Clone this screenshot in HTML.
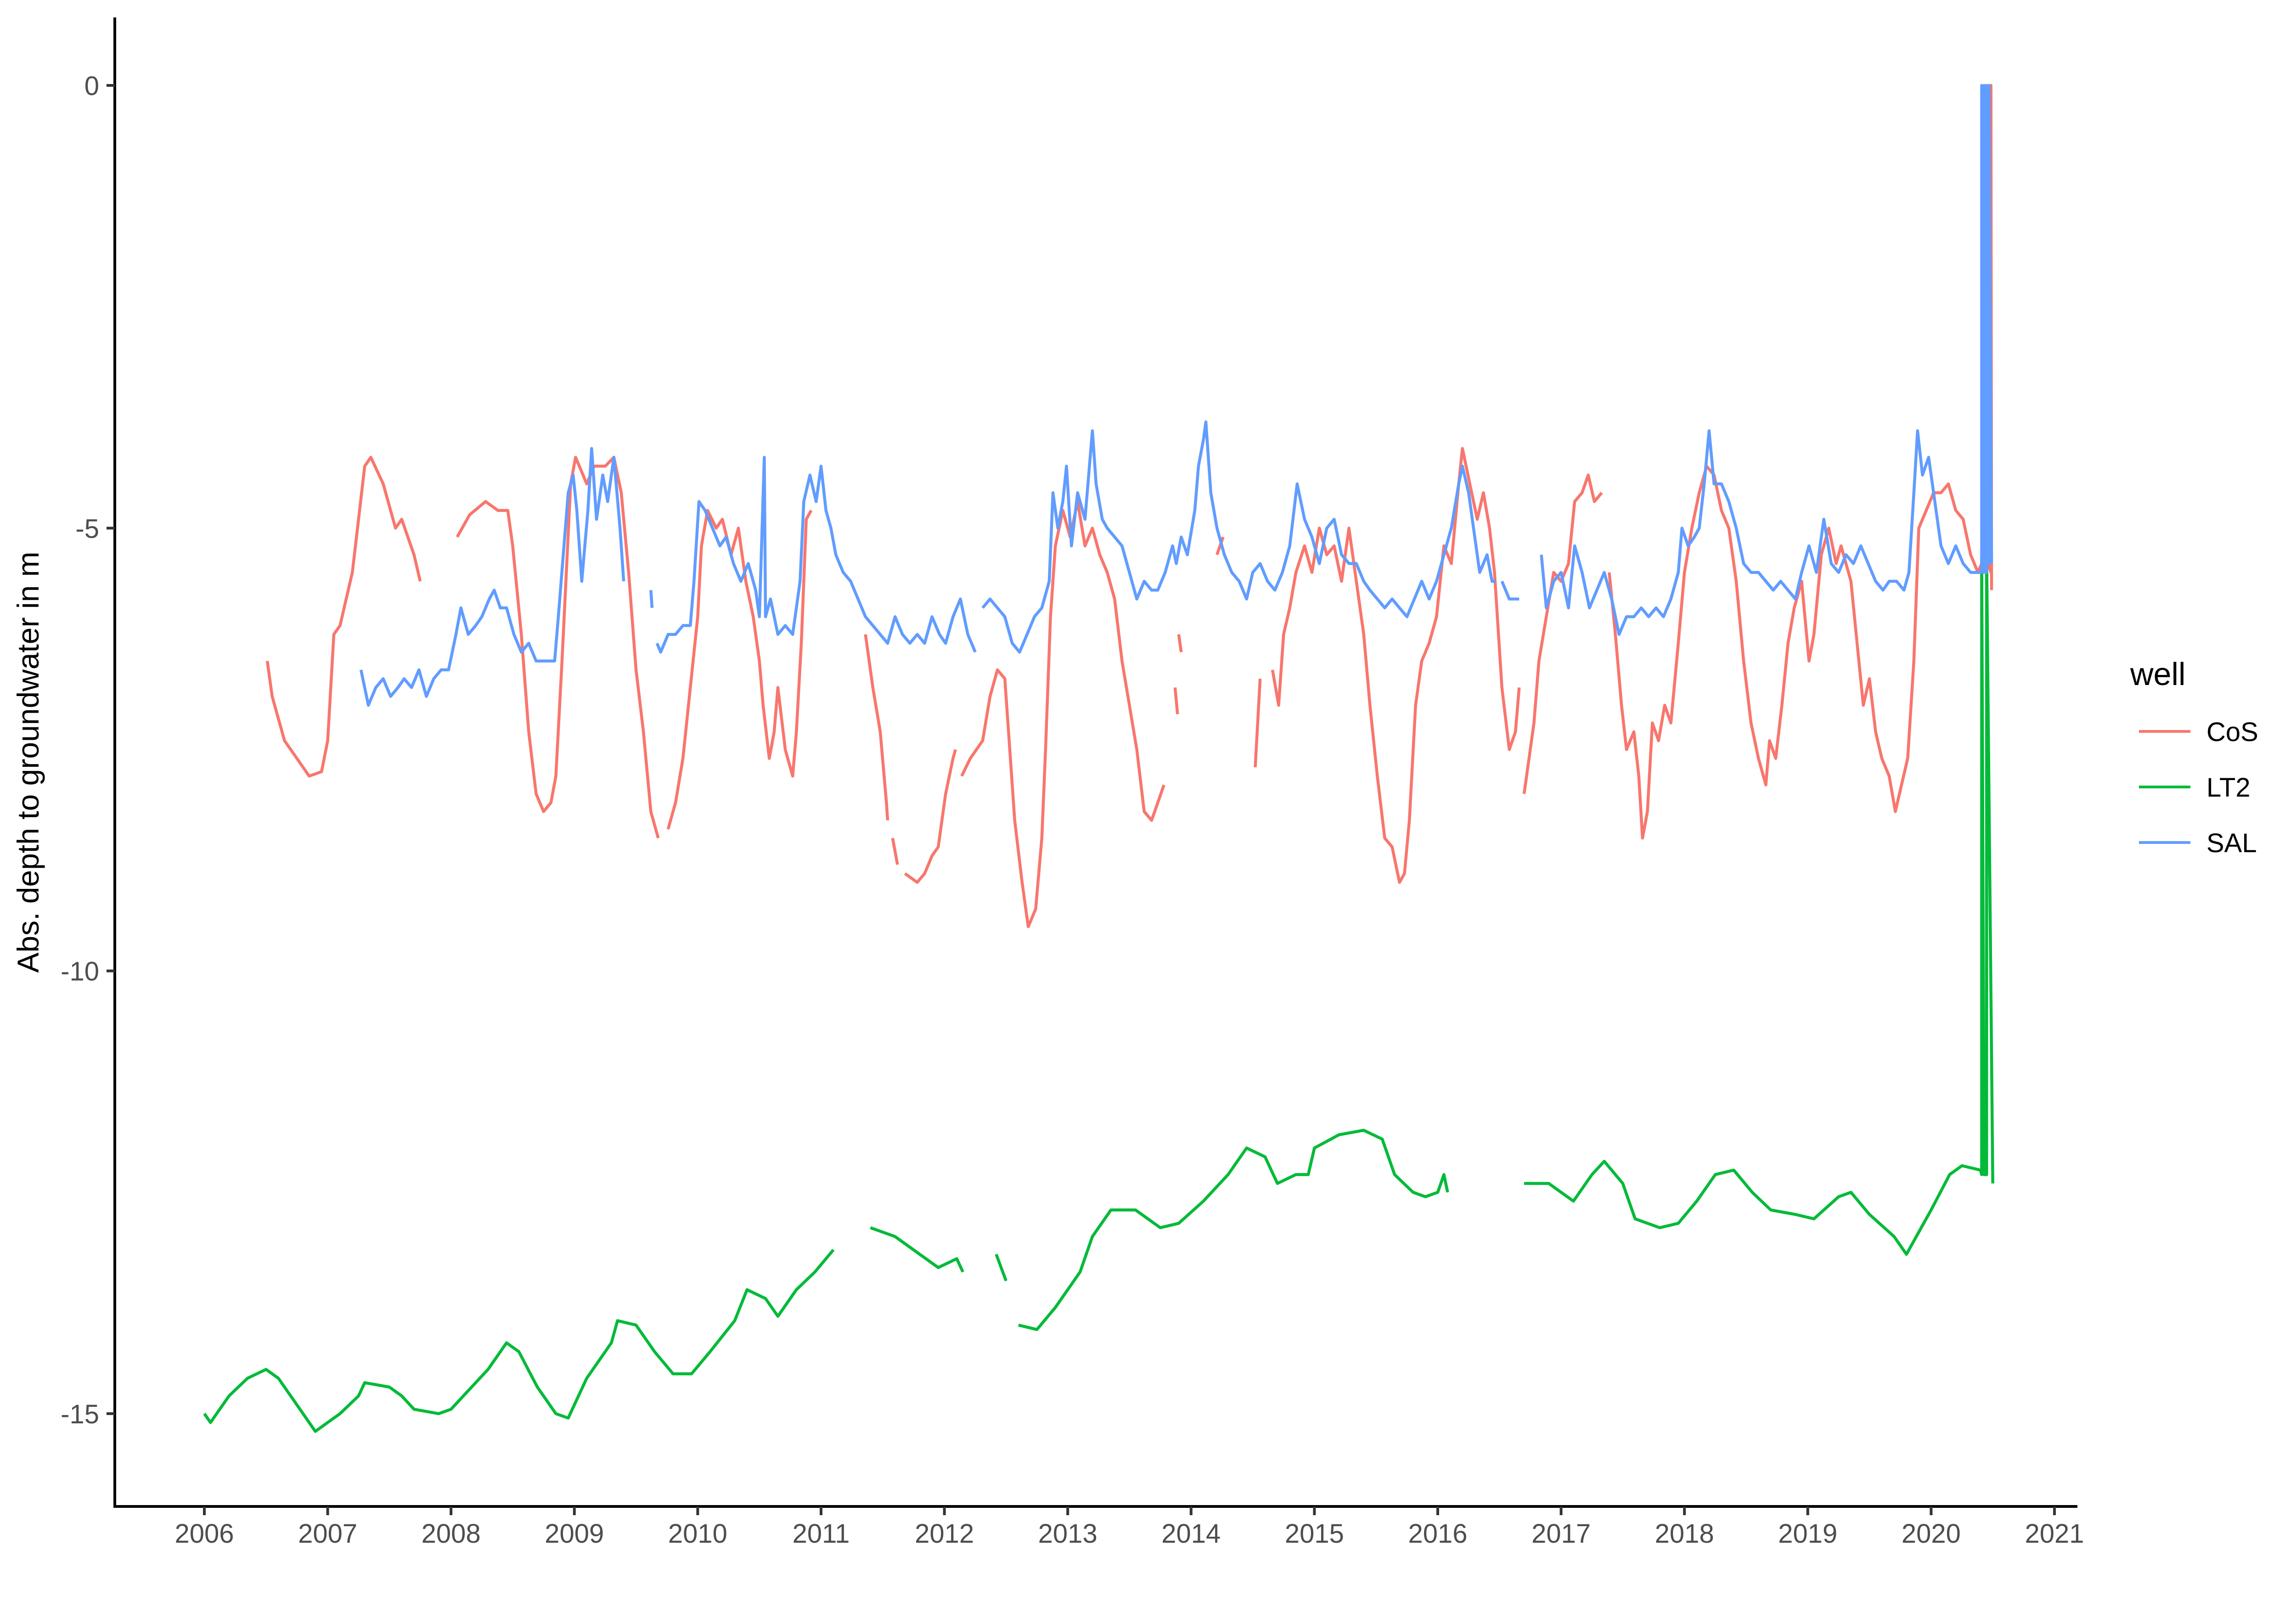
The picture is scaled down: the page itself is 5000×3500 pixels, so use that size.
<!DOCTYPE html>
<html><head><meta charset="utf-8">
<style>
html,body{margin:0;padding:0;background:#fff;}
svg{display:block;}
text{font-family:"Liberation Sans",Arial,sans-serif;}
</style></head>
<body>
<svg id="chart" width="5000" height="3500" viewBox="0 0 5000 3500" xmlns="http://www.w3.org/2000/svg">
<rect x="0" y="0" width="5000" height="3500" fill="#fff"/>
<g id="series"></g>
<g id="axes"></g>
<text x="0" y="0" transform="translate(84,1660) rotate(-90)" text-anchor="middle" font-size="66" fill="#000">Abs. depth to groundwater in m</text>
<g>
<text x="4639" y="1492" font-size="70" fill="#000">well</text>
<line x1="4658" y1="1593" x2="4770" y2="1593" stroke="#F8766D" stroke-width="6"/>
<text x="4805" y="1614" font-size="58" fill="#000">CoS</text>
<line x1="4658" y1="1714" x2="4770" y2="1714" stroke="#00BA38" stroke-width="6"/>
<text x="4805" y="1735" font-size="58" fill="#000">LT2</text>
<line x1="4658" y1="1835" x2="4770" y2="1835" stroke="#619CFF" stroke-width="6"/>
<text x="4805" y="1856" font-size="58" fill="#000">SAL</text>
</g>
</svg>
<script>
const xTicks = [2006,2007,2008,2009,2010,2011,2012,2013,2014,2015,2016,2017,2018,2019,2020,2021];
const yTicks = [0,-5,-10,-15];
const yTickLabels = ["0","-5","-10","-15"];

const lt2T = [2006.0,2006.05,2006.2,2006.35,2006.5,2006.6,2006.75,2006.9,2007.1,2007.25,2007.3,2007.5,2007.6,2007.7,2007.9,2008.0,2008.1,2008.3,2008.45,2008.55,2008.7,2008.85,2008.95,2009.1,2009.3,2009.35,2009.5,2009.65,2009.8,2009.95,2010.1,2010.3,2010.4,2010.55,2010.65,2010.8,2010.95,2011.1,null,
2011.4,2011.6,2011.8,2011.95,2012.1,2012.15,null,2012.42,2012.5,null,
2012.6,2012.75,2012.9,2013.1,2013.2,2013.35,2013.55,2013.75,2013.9,2014.1,2014.3,2014.45,2014.6,2014.7,2014.85,2014.95,2015.0,2015.2,2015.4,2015.55,2015.65,2015.8,2015.9,2016.0,2016.05,2016.08,null,
2016.7,2016.9,2017.0,2017.1,2017.25,2017.35,2017.5,2017.6,2017.8,2017.95,2018.1,2018.25,2018.4,2018.55,2018.7,2018.9,2019.05,2019.25,2019.35,2019.5,2019.7,2019.8,2019.9,2020.0,2020.15,2020.25,2020.4,2020.41,2020.41,2020.43,2020.45,2020.45,2020.5];
const lt2V = [-15.0,-15.1,-14.8,-14.6,-14.5,-14.6,-14.9,-15.2,-15.0,-14.8,-14.65,-14.7,-14.8,-14.95,-15.0,-14.95,-14.8,-14.5,-14.2,-14.3,-14.7,-15.0,-15.05,-14.6,-14.2,-13.95,-14.0,-14.3,-14.55,-14.55,-14.3,-13.95,-13.6,-13.7,-13.9,-13.6,-13.4,-13.15,null,
-12.9,-13.0,-13.2,-13.35,-13.25,-13.4,null,-13.2,-13.5,null,
-14.0,-14.05,-13.8,-13.4,-13.0,-12.7,-12.7,-12.9,-12.85,-12.6,-12.3,-12.0,-12.1,-12.4,-12.3,-12.3,-12.0,-11.85,-11.8,-11.9,-12.3,-12.5,-12.55,-12.5,-12.3,-12.5,null,
-12.4,-12.4,-12.5,-12.6,-12.3,-12.15,-12.4,-12.8,-12.9,-12.85,-12.6,-12.3,-12.25,-12.5,-12.7,-12.75,-12.8,-12.55,-12.5,-12.75,-13.0,-13.2,-12.95,-12.7,-12.3,-12.2,-12.25,-12.3,-5.3,-12.3,-12.3,-5.3,-12.4];

const cosT = [2006.51,2006.55,2006.65,2006.75,2006.85,2006.95,2007.0,2007.05,2007.1,2007.2,2007.25,2007.3,2007.35,2007.45,2007.55,2007.6,2007.7,2007.75,null,
2008.05,2008.15,2008.28,2008.38,2008.46,2008.5,2008.57,2008.63,2008.69,2008.75,2008.81,2008.85,2008.9,2008.97,2009.01,2009.1,2009.16,2009.25,2009.32,2009.38,2009.44,2009.5,2009.56,2009.62,2009.68,null,
2009.76,2009.82,2009.88,2009.94,2010.0,2010.03,2010.08,2010.15,2010.2,2010.27,2010.33,2010.39,2010.45,2010.5,2010.53,2010.58,2010.62,2010.65,2010.71,2010.77,2010.8,2010.84,2010.88,2010.92,null,
2011.36,2011.42,2011.48,2011.53,2011.54,null,2011.58,2011.62,null,2011.68,2011.78,2011.84,2011.9,2011.95,2012.01,2012.07,2012.09,null,
2012.14,2012.21,2012.31,2012.37,2012.43,2012.49,2012.52,2012.57,2012.63,2012.68,2012.74,2012.79,2012.82,2012.86,2012.9,2012.96,2013.02,2013.08,2013.14,2013.2,2013.26,2013.32,2013.38,2013.44,2013.5,2013.56,2013.62,2013.68,2013.73,2013.78,null,
2013.87,2013.89,null,2013.9,2013.92,null,2014.21,2014.26,null,2014.52,2014.56,null,
2014.66,2014.71,2014.75,2014.8,2014.85,2014.92,2014.98,2015.04,2015.1,2015.16,2015.22,2015.28,2015.34,2015.4,2015.45,2015.51,2015.57,2015.63,2015.69,2015.73,2015.77,2015.82,2015.87,2015.93,2015.99,2016.05,2016.11,2016.17,2016.2,2016.26,2016.32,2016.37,2016.42,2016.46,2016.52,2016.58,2016.63,2016.66,null,
2016.7,2016.74,2016.78,2016.82,2016.88,2016.94,2017.0,2017.06,2017.11,2017.17,2017.22,2017.27,2017.33,null,
2017.39,2017.44,2017.49,2017.53,2017.59,2017.63,2017.66,2017.7,2017.74,2017.79,2017.84,2017.89,2017.95,2018.0,2018.06,2018.12,2018.18,2018.24,2018.3,2018.36,2018.42,2018.48,2018.54,2018.6,2018.66,2018.69,2018.74,2018.79,2018.84,2018.89,2018.95,2019.01,2019.05,2019.11,2019.17,2019.23,2019.27,2019.35,2019.4,2019.45,2019.5,2019.55,2019.6,2019.66,2019.71,2019.76,2019.81,2019.86,2019.9,2019.96,2020.02,2020.08,2020.14,2020.2,2020.26,2020.32,2020.38,2020.44,2020.485,2020.485,2020.49];
const cosV = [-6.5,-6.9,-7.4,-7.6,-7.8,-7.75,-7.4,-6.2,-6.1,-5.5,-4.9,-4.3,-4.2,-4.5,-5.0,-4.9,-5.3,-5.6,null,
-5.1,-4.85,-4.7,-4.8,-4.8,-5.2,-6.2,-7.3,-8.0,-8.2,-8.1,-7.8,-6.5,-4.5,-4.2,-4.5,-4.3,-4.3,-4.2,-4.6,-5.5,-6.6,-7.3,-8.2,-8.5,null,
-8.4,-8.1,-7.6,-6.8,-6.0,-5.2,-4.8,-5.0,-4.9,-5.3,-5.0,-5.6,-6.0,-6.5,-7.0,-7.6,-7.3,-6.8,-7.5,-7.8,-7.3,-6.3,-4.9,-4.8,null,
-6.2,-6.8,-7.3,-8.1,-8.3,null,-8.5,-8.8,null,-8.9,-9.0,-8.9,-8.7,-8.6,-8.0,-7.6,-7.5,null,
-7.8,-7.6,-7.4,-6.9,-6.6,-6.7,-7.3,-8.3,-9.0,-9.5,-9.3,-8.5,-7.5,-6.0,-5.2,-4.8,-5.1,-4.7,-5.2,-5.0,-5.3,-5.5,-5.8,-6.5,-7.0,-7.5,-8.2,-8.3,-8.1,-7.9,null,
-6.8,-7.1,null,-6.2,-6.4,null,-5.3,-5.1,null,-7.7,-6.7,null,
-6.6,-7.0,-6.2,-5.9,-5.5,-5.2,-5.5,-5.0,-5.3,-5.2,-5.6,-5.0,-5.6,-6.2,-7.0,-7.8,-8.5,-8.6,-9.0,-8.9,-8.3,-7.0,-6.5,-6.3,-6.0,-5.2,-5.4,-4.5,-4.1,-4.5,-4.9,-4.6,-5.0,-5.5,-6.8,-7.5,-7.3,-6.8,null,
-8.0,-7.6,-7.2,-6.5,-6.0,-5.5,-5.6,-5.4,-4.7,-4.6,-4.4,-4.7,-4.6,null,
-5.5,-6.2,-7.0,-7.5,-7.3,-7.8,-8.5,-8.2,-7.2,-7.4,-7.0,-7.2,-6.3,-5.5,-5.0,-4.6,-4.3,-4.4,-4.8,-5.0,-5.6,-6.5,-7.2,-7.6,-7.9,-7.4,-7.6,-7.0,-6.3,-5.9,-5.6,-6.5,-6.2,-5.3,-5.0,-5.4,-5.2,-5.6,-6.3,-7.0,-6.7,-7.3,-7.6,-7.8,-8.2,-7.9,-7.6,-6.5,-5.0,-4.8,-4.6,-4.6,-4.5,-4.8,-4.9,-5.3,-5.5,-5.3,-5.5,0.0,-5.7];

const salT = [2007.27,2007.33,2007.39,2007.45,2007.51,2007.57,2007.62,2007.68,2007.74,2007.8,2007.86,2007.92,2007.98,2008.04,2008.08,2008.14,2008.2,2008.25,2008.31,2008.35,2008.4,2008.45,2008.51,2008.57,2008.63,2008.69,2008.75,2008.84,2008.87,2008.91,2008.95,2008.99,2009.02,2009.06,2009.11,2009.14,2009.18,2009.23,2009.27,2009.32,2009.37,2009.4,null,
2009.62,2009.63,null,
2009.67,2009.7,2009.76,2009.82,2009.88,2009.94,2009.97,2010.01,2010.06,2010.12,2010.18,2010.23,2010.29,2010.35,2010.41,2010.47,2010.5,2010.54,2010.55,2010.59,2010.65,2010.71,2010.77,2010.83,2010.86,2010.91,2010.96,2011.0,2011.04,2011.08,2011.12,2011.18,2011.24,2011.3,2011.36,2011.42,2011.48,2011.54,2011.6,2011.66,2011.72,2011.78,2011.84,2011.9,2011.96,2012.01,2012.07,2012.13,2012.19,2012.25,null,
2012.31,2012.37,2012.43,2012.49,2012.55,2012.61,2012.67,2012.73,2012.79,2012.85,2012.88,2012.92,2012.96,2012.99,2013.03,2013.08,2013.14,2013.2,2013.23,2013.28,2013.32,2013.38,2013.44,2013.5,2013.56,2013.62,2013.68,2013.73,2013.79,2013.85,2013.88,2013.92,2013.97,2014.03,2014.06,2014.1,2014.12,2014.16,2014.21,2014.27,2014.33,2014.39,2014.45,2014.5,2014.56,2014.62,2014.68,2014.74,2014.8,2014.86,2014.92,2014.98,2015.04,2015.1,2015.16,2015.22,2015.28,2015.34,2015.4,2015.45,2015.51,2015.57,2015.63,2015.69,2015.75,2015.81,2015.87,2015.93,2015.99,2016.05,2016.11,2016.17,2016.2,2016.25,2016.29,2016.34,2016.4,2016.44,2016.47,null,
2016.52,2016.58,2016.66,null,
2016.84,2016.88,2016.94,2017.0,2017.06,2017.11,2017.17,2017.23,2017.29,2017.35,2017.41,2017.47,2017.53,2017.59,2017.65,2017.71,2017.77,2017.83,2017.89,2017.95,2017.98,2018.03,2018.08,2018.12,2018.16,2018.2,2018.24,2018.3,2018.36,2018.42,2018.48,2018.54,2018.6,2018.66,2018.72,2018.78,2018.84,2018.9,2018.95,2019.01,2019.07,2019.13,2019.19,2019.25,2019.31,2019.37,2019.43,2019.49,2019.55,2019.61,2019.66,2019.72,2019.78,2019.82,2019.86,2019.89,2019.93,2019.98,2020.02,2020.08,2020.14,2020.2,2020.26,2020.32,2020.38,2020.41,2020.41,2020.43,2020.43,2020.45,2020.45,2020.47,2020.47,2020.49];
const salV = [-6.6,-7.0,-6.8,-6.7,-6.9,-6.8,-6.7,-6.8,-6.6,-6.9,-6.7,-6.6,-6.6,-6.2,-5.9,-6.2,-6.1,-6.0,-5.8,-5.7,-5.9,-5.9,-6.2,-6.4,-6.3,-6.5,-6.5,-6.5,-6.0,-5.3,-4.6,-4.4,-4.8,-5.6,-4.8,-4.1,-4.9,-4.4,-4.7,-4.2,-5.0,-5.6,null,
-5.7,-5.9,null,
-6.3,-6.4,-6.2,-6.2,-6.1,-6.1,-5.6,-4.7,-4.8,-5.0,-5.2,-5.1,-5.4,-5.6,-5.4,-5.7,-6.0,-4.2,-6.0,-5.8,-6.2,-6.1,-6.2,-5.6,-4.7,-4.4,-4.7,-4.3,-4.8,-5.0,-5.3,-5.5,-5.6,-5.8,-6.0,-6.1,-6.2,-6.3,-6.0,-6.2,-6.3,-6.2,-6.3,-6.0,-6.2,-6.3,-6.0,-5.8,-6.2,-6.4,null,
-5.9,-5.8,-5.9,-6.0,-6.3,-6.4,-6.2,-6.0,-5.9,-5.6,-4.6,-5.0,-4.7,-4.3,-5.2,-4.6,-4.9,-3.9,-4.5,-4.9,-5.0,-5.1,-5.2,-5.5,-5.8,-5.6,-5.7,-5.7,-5.5,-5.2,-5.4,-5.1,-5.3,-4.8,-4.3,-4.0,-3.8,-4.6,-5.0,-5.3,-5.5,-5.6,-5.8,-5.5,-5.4,-5.6,-5.7,-5.5,-5.2,-4.5,-4.9,-5.1,-5.4,-5.0,-4.9,-5.3,-5.4,-5.4,-5.6,-5.7,-5.8,-5.9,-5.8,-5.9,-6.0,-5.8,-5.6,-5.8,-5.6,-5.3,-5.0,-4.5,-4.3,-4.6,-5.0,-5.5,-5.3,-5.6,-5.6,null,
-5.6,-5.8,-5.8,null,
-5.3,-5.9,-5.6,-5.5,-5.9,-5.2,-5.5,-5.9,-5.7,-5.5,-5.8,-6.2,-6.0,-6.0,-5.9,-6.0,-5.9,-6.0,-5.8,-5.5,-5.0,-5.2,-5.1,-5.0,-4.5,-3.9,-4.5,-4.5,-4.7,-5.0,-5.4,-5.5,-5.5,-5.6,-5.7,-5.6,-5.7,-5.8,-5.5,-5.2,-5.5,-4.9,-5.4,-5.5,-5.3,-5.4,-5.2,-5.4,-5.6,-5.7,-5.6,-5.6,-5.7,-5.5,-4.6,-3.9,-4.4,-4.2,-4.6,-5.2,-5.4,-5.2,-5.4,-5.5,-5.5,-5.5,0.0,-5.5,0.0,-5.5,0.0,-5.4,0.0,-5.4,-5.5];

const NS = "http://www.w3.org/2000/svg";
const X0 = 445, PX_PER_YEAR = 268.6, Y0 = 186, PX_PER_M = 192.86;
function xScale(t){ return X0 + (t - 2006) * PX_PER_YEAR; }
function yScale(v){ return Y0 - v * PX_PER_M; }

const seriesG = document.getElementById('series');
function drawSeries(ts, vs, color, name){
  let d = "", pen = false;
  for (let i = 0; i < ts.length; i++){
    if (ts[i] === null || vs[i] === null){ pen = false; continue; }
    d += (pen ? "L" : "M") + xScale(ts[i]).toFixed(1) + " " + yScale(vs[i]).toFixed(1) + " ";
    pen = true;
  }
  const p = document.createElementNS(NS, 'path');
  p.setAttribute('d', d);
  p.setAttribute('fill', 'none');
  p.setAttribute('stroke', color);
  p.setAttribute('stroke-width', '6.5');
  p.setAttribute('stroke-linejoin', 'round');
  
  
  seriesG.appendChild(p);
}
drawSeries(cosT, cosV, '#F8766D', 'series-cos');
drawSeries(lt2T, lt2V, '#00BA38', 'series-lt2');
drawSeries(salT, salV, '#619CFF', 'series-sal');

const axesG = document.getElementById('axes');
const yAxis = document.createElementNS(NS, 'line');
yAxis.setAttribute('x1', 250); yAxis.setAttribute('x2', 250);
yAxis.setAttribute('y1', 38); yAxis.setAttribute('y2', 3284);
yAxis.setAttribute('stroke', '#000'); yAxis.setAttribute('stroke-width', '6');


axesG.appendChild(yAxis);
const xAxis = document.createElementNS(NS, 'line');
xAxis.setAttribute('x1', 247); xAxis.setAttribute('x2', 4524);
xAxis.setAttribute('y1', 3281); xAxis.setAttribute('y2', 3281);
xAxis.setAttribute('stroke', '#000'); xAxis.setAttribute('stroke-width', '6');


axesG.appendChild(xAxis);

yTicks.forEach((v, i) => {
  const y = yScale(v);
  const tk = document.createElementNS(NS, 'line');
  tk.setAttribute('x1', 232); tk.setAttribute('x2', 250);
  tk.setAttribute('y1', y); tk.setAttribute('y2', y);
  tk.setAttribute('stroke', '#333'); tk.setAttribute('stroke-width', '6');
  
  
  axesG.appendChild(tk);
  const tx = document.createElementNS(NS, 'text');
  tx.setAttribute('x', 216); tx.setAttribute('y', y + 21);
  tx.setAttribute('text-anchor', 'end'); tx.setAttribute('font-size', '58');
  tx.setAttribute('fill', '#4d4d4d');
  
  
  tx.textContent = yTickLabels[i];
  axesG.appendChild(tx);
});
xTicks.forEach((t) => {
  const x = xScale(t);
  const tk = document.createElementNS(NS, 'line');
  tk.setAttribute('x1', x); tk.setAttribute('x2', x);
  tk.setAttribute('y1', 3281); tk.setAttribute('y2', 3300);
  tk.setAttribute('stroke', '#333'); tk.setAttribute('stroke-width', '6');
  
  
  axesG.appendChild(tk);
  const tx = document.createElementNS(NS, 'text');
  tx.setAttribute('x', x); tx.setAttribute('y', 3360);
  tx.setAttribute('text-anchor', 'middle'); tx.setAttribute('font-size', '58');
  tx.setAttribute('fill', '#4d4d4d');
  
  
  tx.textContent = String(t);
  axesG.appendChild(tx);
});
</script>
</body></html>
